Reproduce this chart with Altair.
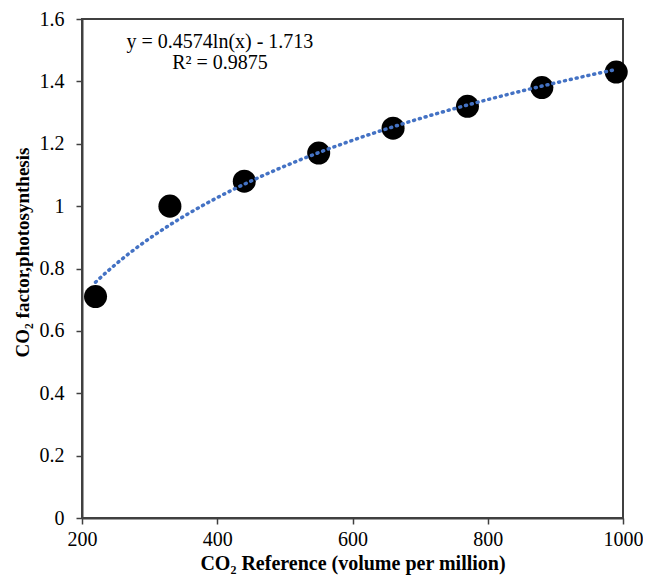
import altair as alt
import pandas as pd

co2_ref = [220, 330, 440, 550, 660, 770, 880, 990]
factor = [0.71, 1.00, 1.08, 1.17, 1.25, 1.32, 1.38, 1.43]
eq_lines = ["y = 0.4574ln(x) - 1.713", "R² = 0.9875"]
eq_y = [1.526, 1.459]
eq_x = [404, 404]

df = pd.DataFrame({"x": co2_ref, "y": factor})
eq = pd.DataFrame({"x": eq_x, "y": eq_y, "t": eq_lines})

FONT = "Liberation Serif"
xs = alt.Scale(domain=[200, 1000], nice=False, zero=False)
ys = alt.Scale(domain=[0, 1.6], nice=False)

xaxis = alt.Axis(values=[200, 400, 600, 800, 1000], format="d", grid=False,
                 title="CO₂ Reference (volume per million)", titleFontWeight="bold",
                 titleFont=FONT, labelFont=FONT, labelFontSize=20, titleFontSize=20,
                 labelColor="black", titleColor="black", tickSize=6, labelPadding=5,
                 titleY=45, titleBaseline="middle",
                 domainColor="#404040", domainWidth=2,
                 tickColor="#404040", tickWidth=1.5, labelFlush=False)
yaxis = alt.Axis(values=[0, 0.2, 0.4, 0.6, 0.8, 1.0, 1.2, 1.4, 1.6], format=".1~f", grid=False,
                 title="CO₂ factor,photosynthesis", titleFontWeight="bold",
                 titleFont=FONT, labelFont=FONT, labelFontSize=20, titleFontSize=19,
                 labelColor="black", titleColor="black", tickSize=6, labelPadding=12,
                 titlePadding=7, titleY=233, domainColor="#404040", domainWidth=2,
                 tickColor="#404040", tickWidth=1.5)

base = alt.Chart(df)

points = base.mark_circle(size=530, color="black", opacity=1).encode(
    x=alt.X("x:Q", scale=xs, axis=xaxis), y=alt.Y("y:Q", scale=ys, axis=yaxis)
)

trend = base.transform_regression("x", "y", method="log", extent=[220, 990]).mark_line(
    color="#4472C4", strokeDash=[1, 5], strokeWidth=3.5, strokeCap="round"
).encode(x=alt.X("x:Q", scale=xs), y=alt.Y("y:Q", scale=ys))

text = alt.Chart(eq).mark_text(font=FONT, fontSize=20, color="black").encode(
    x=alt.X("x:Q", scale=xs), y=alt.Y("y:Q", scale=ys), text="t:N"
)

chart = alt.layer(points, trend, text).properties(
    width=541, height=499, background="white",
    autosize=alt.AutoSizeParams(type="none"),
    padding={"left": 74, "top": 11, "right": 20, "bottom": 57}
).configure_view(stroke="#404040", strokeWidth=2)

chart.save("out.html", embed_options={"renderer": "svg", "actions": False})
